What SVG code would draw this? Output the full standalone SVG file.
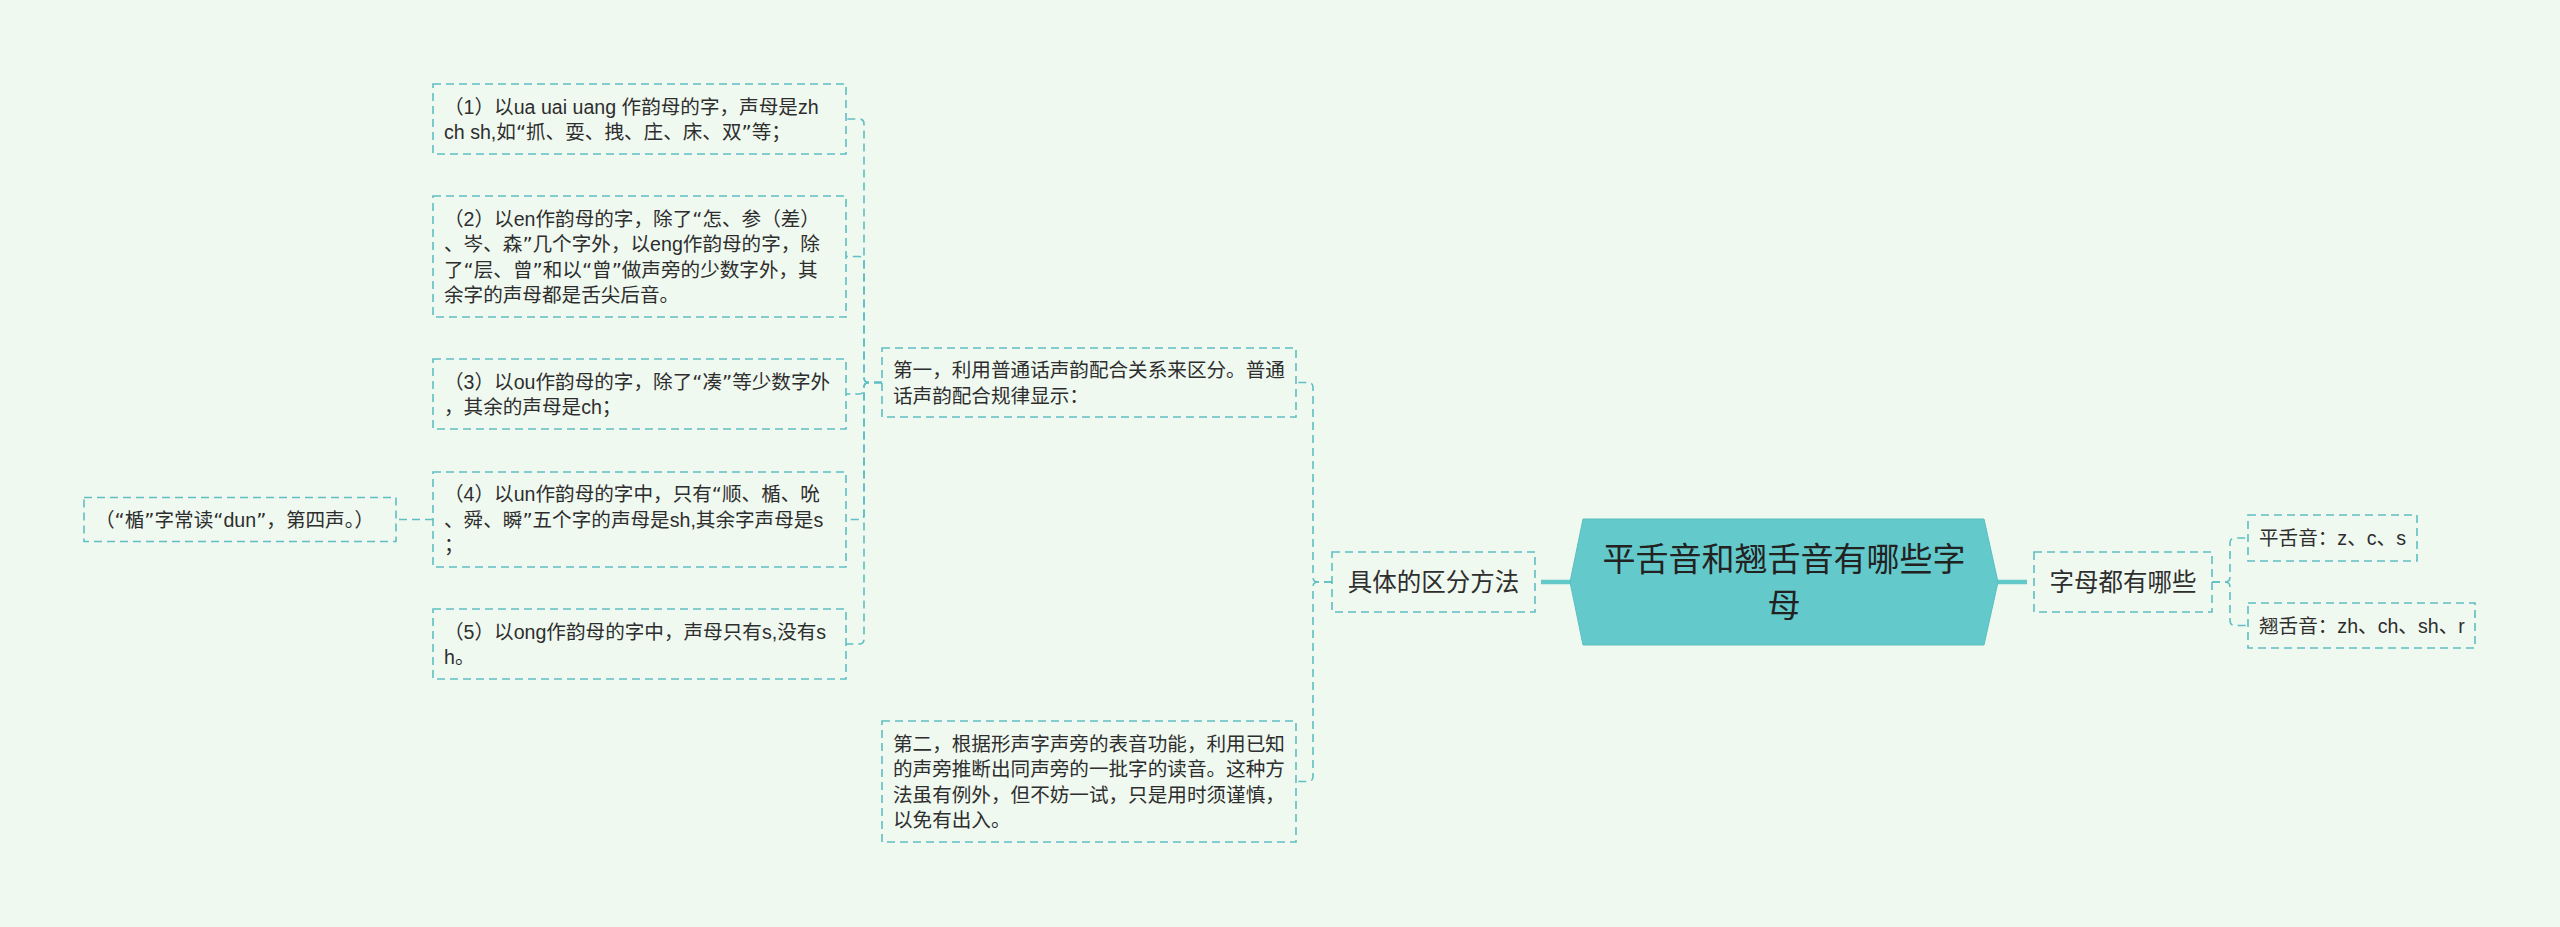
<svg xmlns="http://www.w3.org/2000/svg" width="2560" height="927" viewBox="0 0 2560 927">
<style>
.bg{fill:#f0f9f0}
.box{fill:none;stroke:#5fbfc2;stroke-width:1.6;stroke-dasharray:8 5}
.con{fill:none;stroke:#5fbfc2;stroke-width:1.6;stroke-dasharray:8 5}
.thick{fill:none;stroke:#62c8ca;stroke-width:4.5}
.t{font-family:"Liberation Sans","Noto Sans CJK SC",sans-serif;font-size:19.6px;fill:#2e2e2e}
.q{font-family:"DejaVu Sans","Noto Sans CJK SC",sans-serif}
.m{font-family:"Liberation Sans","Noto Sans CJK SC",sans-serif;font-size:24.5px;fill:#2e2e2e;text-anchor:middle}
.c{font-family:"Noto Sans CJK SC",sans-serif;font-size:33px;fill:#222;text-anchor:middle}
.hex{fill:#63c9cb;stroke:#5bbfc1;stroke-width:1}
</style>
<rect class="bg" x="0" y="0" width="2560" height="927"/>
<g id="connectors">
<path class="thick" d="M1541,582 H1572"/>
<path class="thick" d="M1996,582 H2027"/>
<path class="con" d="M1332,582 H1318 Q1313,582 1313,577 V387.5 Q1313,382.5 1308,382.5 H1296"/>
<path class="con" d="M1332,582 H1318 Q1313,582 1313,587 V776.5 Q1313,781.5 1308,781.5 H1296"/>
<path class="con" d="M2212,582 H2225 Q2230,582 2230,577 V543 Q2230,538 2235,538 H2248"/>
<path class="con" d="M2212,582 H2225 Q2230,582 2230,587 V620.5 Q2230,625.5 2235,625.5 H2248"/>
<path class="con" d="M882,382.5 H869 Q864,382.5 864,377.5 V124 Q864,119 859,119 H846"/>
<path class="con" d="M882,382.5 H869 Q864,382.5 864,377.5 V261.5 Q864,256.5 859,256.5 H846"/>
<path class="con" d="M882,382.5 H869 Q864,382.5 864,387.5 V389 Q864,394 859,394 H846"/>
<path class="con" d="M882,382.5 H869 Q864,382.5 864,387.5 V514.5 Q864,519.5 859,519.5 H846"/>
<path class="con" d="M882,382.5 H869 Q864,382.5 864,387.5 V639 Q864,644 859,644 H846"/>
<path class="con" d="M433,519.5 H396"/>
</g>
<g id="root">
<polygon class="hex" points="1570,582 1583,519 1984,519 1998,582 1984,645 1583,645"/>
<text class="c" x="1784" y="571">平舌音和翘舌音有哪些字</text>
<text class="c" x="1784" y="617">母</text>
</g>
<g id="n-method">
<rect class="box" x="1332" y="552" width="203" height="60"/>
<text class="m" x="1433.5" y="591">具体的区分方法</text>
</g>
<g id="n-letters">
<rect class="box" x="2034" y="552" width="178" height="60"/>
<text class="m" x="2123" y="591">字母都有哪些</text>
</g>
<g id="n-ping">
<rect class="box" x="2248" y="515" width="169" height="46"/>
<text class="t" x="2259" y="545.4">平舌音：z、c、s</text>
</g>
<g id="n-qiao">
<rect class="box" x="2248" y="603" width="227" height="45"/>
<text class="t" x="2259" y="632.9">翘舌音：zh、ch、sh、r</text>
</g>
<g id="n-first">
<rect class="box" x="882" y="348" width="414" height="69"/>
<text class="t" x="893" y="377.2">第一，利用普通话声韵配合关系来区分。普通</text>
<text class="t" x="893" y="402.7">话声韵配合规律显示：</text>
</g>
<g id="n-second">
<rect class="box" x="882" y="721" width="414" height="121"/>
<text class="t" x="893" y="750.7">第二，根据形声字声旁的表音功能，利用已知</text>
<text class="t" x="893" y="776.2">的声旁推断出同声旁的一批字的读音。这种方</text>
<text class="t" x="893" y="801.7">法虽有例外，但不妨一试，只是用时须谨慎，</text>
<text class="t" x="893" y="827.2">以免有出入。</text>
</g>
<g id="n-1">
<rect class="box" x="433" y="84" width="413" height="70"/>
<text class="t" x="444" y="113.7">（1）以ua uai uang 作韵母的字，声母是zh</text>
<text class="t" x="444" y="139.2">ch sh,如<tspan class="q">“</tspan>抓、耍、拽、庄、床、双<tspan class="q">”</tspan>等；</text>
</g>
<g id="n-2">
<rect class="box" x="433" y="196" width="413" height="121"/>
<text class="t" x="444" y="225.7">（2）以en作韵母的字，除了<tspan class="q">“</tspan>怎、参（差）</text>
<text class="t" x="444" y="251.2">、岑、森<tspan class="q">”</tspan>几个字外，以eng作韵母的字，除</text>
<text class="t" x="444" y="276.7">了<tspan class="q">“</tspan>层、曾<tspan class="q">”</tspan>和以<tspan class="q">“</tspan>曾<tspan class="q">”</tspan>做声旁的少数字外，其</text>
<text class="t" x="444" y="302.2">余字的声母都是舌尖后音。</text>
</g>
<g id="n-3">
<rect class="box" x="433" y="359" width="413" height="70"/>
<text class="t" x="444" y="388.7">（3）以ou作韵母的字，除了<tspan class="q">“</tspan>凑<tspan class="q">”</tspan>等少数字外</text>
<text class="t" x="444" y="414.2">，其余的声母是ch；</text>
</g>
<g id="n-4">
<rect class="box" x="433" y="472" width="413" height="95"/>
<text class="t" x="444" y="501.4">（4）以un作韵母的字中，只有<tspan class="q">“</tspan>顺、楯、吮</text>
<text class="t" x="444" y="526.9">、舜、瞬<tspan class="q">”</tspan>五个字的声母是sh,其余字声母是s</text>
<text class="t" x="444" y="552.4">；</text>
</g>
<g id="n-5">
<rect class="box" x="433" y="609" width="413" height="70"/>
<text class="t" x="444" y="638.7">（5）以ong作韵母的字中，声母只有s,没有s</text>
<text class="t" x="444" y="664.2">h。</text>
</g>
<g id="n-note">
<rect class="box" x="84" y="497.5" width="312" height="44"/>
<text class="t" x="95" y="526.9">（<tspan class="q">“</tspan>楯<tspan class="q">”</tspan>字常读<tspan class="q">“</tspan>dun<tspan class="q">”</tspan>，第四声。）</text>
</g>
</svg>
